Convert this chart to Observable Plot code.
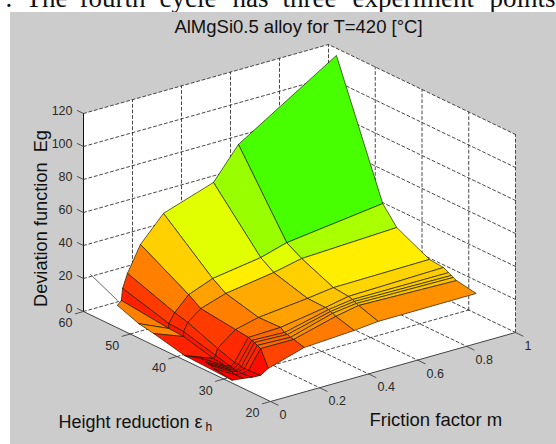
<!DOCTYPE html>
<html><head><meta charset="utf-8">
<script src="https://cdn.jsdelivr.net/npm/d3@7"></script>
<script src="https://cdn.jsdelivr.net/npm/@observablehq/plot@0.6"></script>
<style>html,body{margin:0;padding:0;background:#fff}svg{display:block}</style>
</head><body><div id="chart"></div>
<script>
// Surface rows: height reduction, friction factor and deviation function
const heightReduction = [58.3, 48.4, 45.4, 38.4, 35.4, 34.3, 33.7, 33.3, 32.6, 28.4];
const friction = [
  [.106,.122,.127,.147,.200,.294,.498,.600,1],
  [.004,.127,.127,.151,.208,.306,.502,.608,1],
  [.008,.130,.130,.147,.200,.302,.498,.612,1],
  [0,.118,.127,.135,.208,.302,.502,.608,1],
  [.012,.106,.131,.147,.204,.335,.518,.612,1],
  [.004,.098,.122,.142,.196,.330,.510,.608,1],
  [.004,.094,.122,.143,.196,.331,.506,.604,1],
  [.009,.094,.123,.147,.200,.335,.507,.604,1],
  [.009,.094,.123,.151,.200,.335,.507,.600,1],
  [.004,.049,.086,.119,.151,.298,.502,.600,1]
];
const deviation = [
  [1.6,3.9,11.0,19.3,34.6,49.5,59.7,78.5,115.7],
  [8.3,.2,3.2,8.8,17.3,23.0,27.5,32.1,39.4],
  [6.2,-.7,2.3,7.1,13.3,18.2,22.7,26.4,29.0],
  [2.8,-4.0,-2.5,1.4,9.8,13.2,16.4,18.5,19.2],
  [4.6,-3.6,-5.2,-3.5,9.3,9.9,14.3,17.1,18.4],
  [4.5,-3.0,-4.6,-3.0,9.3,8.5,14.9,16.9,16.8],
  [4.2,-3.2,-5.0,-3.5,8.9,8.1,14.7,16.7,15.9],
  [3.3,-3.9,-5.1,-4.3,7.5,6.7,14.1,16.0,15.2],
  [2.4,-4.8,-5.4,-4.7,6.5,6.4,13.2,15.9,14.3],
  [1.2,.5,-.4,-.6,2.3,8.8,10.6,12.0,12.2]
];
// Colour level of each face (0 red ... 120 green)
const faceLevel = [
  [30,8,14,30,49,67,84,103],
  [32,5,10,16,38,56,67,80],
  [8,5,10,14,30,40,49,56],
  [0,0,5,10,27,38,46,50],
  [0,0,2,8,24,35,44,48],
  [0,0,2,8,24,35,44,48],
  [0,0,2,8,24,34,43,47],
  [0,0,2,8,24,34,42,46],
  [0,0,0,3,16,29,36,34]
];
// Lower fold of the surface, as [row, column] of the grid above
const underside = [[3,0],[9,0],[8,1],[3,1]];
const strayM = [-.004, .106];
const strayEg = [25, 4.6];
const strayE = 58.3;

const egTicks = [0,20,40,60,80,100,120];
const mTicks = [0,.2,.4,.6,.8,1];
const eTicks = [20,30,40,50,60];
const titleText = "AlMgSi0.5 alloy for T=420 [°C]";
const topWords = [".","The","fourth","cycle","has","three","experiment","points."];
const topWordStart = [5,25,79,159,232,282,352,489];

// Orthographic view of the MATLAB axes box
const W = 556, H = 444;
const px = (m,e,z) => 83 + 187*(60-e)/40 + 245*m;
const py = (m,e,z) => 311 + 90*(60-e)/40 - 69*m - 1.65*z;
const pt = (m,e,z,extra={}) => ({x:px(m,e,z), y:py(m,e,z), ...extra});
const gridPt = ([i,j],extra) => pt(friction[i][j],heightReduction[i],deviation[i][j],extra);

// faces, back to front
const faces = [...underside,underside[0]].map(v => gridPt(v,{id:"under",level:0}));
faceLevel.forEach((row,r) => {
  for (let c = row.length-1; c >= 0; c--) {
    const id = `${r}-${c}`, level = row[c];
    [[r,c],[r,c+1],[r+1,c+1],[r+1,c],[r,c]].forEach(v => faces.push(gridPt(v,{id,level})));
  }
});

const walls = [
  [[0,60,0],[1,60,0],[1,60,120],[0,60,120]],
  [[1,60,0],[1,20,0],[1,20,120],[1,60,120]],
  [[0,60,0],[1,60,0],[1,20,0],[0,20,0]]
].flatMap((w,i) => [...w,w[0]].map(p => pt(...p,{id:i})));

const grid = [];
const addLine = (id,...ps) => ps.forEach(p => grid.push(pt(...p,{id})));
egTicks.forEach(z => addLine(`z${z}`,[0,60,z],[1,60,z],[1,20,z]));
mTicks.slice(1).forEach(m => { addLine(`mw${m}`,[m,60,0],[m,60,120]); if (m<1) addLine(`mf${m}`,[m,60,0],[m,20,0]); });
eTicks.forEach(e => { if (e<60) addLine(`ew${e}`,[1,e,0],[1,e,120]); if (e>20 && e<60) addLine(`ef${e}`,[0,e,0],[1,e,0]); });

const axisBase = [pt(0,60,0,{id:0}),pt(0,20,0,{id:0}),pt(1,20,0,{id:0})];
const zAxis = [pt(0,60,0),pt(0,60,120)];
const stray = strayM.map((m,i) => pt(m,strayE,strayEg[i]));

const zTickLinks = egTicks.map(z => ({x1:px(0,60,z),y1:py(0,60,z),x2:px(0,61.4,z),y2:py(0,61.4,z),z}));
const eTickLinks = eTicks.map(e => ({x1:px(0,e,0),y1:py(0,e,0),x2:px(-.035,e,0),y2:py(-.035,e,0),e}));
const mTickLinks = mTicks.map(m => ({x1:px(m,20,0),y1:py(m,20,0),x2:px(m,18.3,0),y2:py(m,18.3,0),m}));

const sans = "Liberation Sans, Arial, sans-serif";
const tickStyle = {fontFamily:sans, fontSize:12.5, fill:"#2a2a2a"};

const chart = Plot.plot({
  width:W, height:H, margin:0,
  x:{domain:[0,W],range:[0,W],axis:null},
  y:{domain:[0,H],range:[0,H],axis:null},
  color:{type:"linear",domain:[0,120],interpolate:t=>`hsl(${t*120},100%,50%)`},
  style:{background:"#fff",overflow:"hidden"},
  marks:[
    Plot.text(topWords,{x:(d,i)=>topWordStart[i],y:()=>6,text:d=>d,textAnchor:"start",lineAnchor:"bottom",fontFamily:"Liberation Serif, Times New Roman, serif",fontSize:27,fill:"#111"}),
    Plot.rect([0],{x1:()=>10,x2:()=>W,y1:()=>12,y2:()=>H,fill:"#cccccc"}),
    Plot.line(walls,{x:"x",y:"y",z:"id",fill:"#fff",stroke:"none"}),
    Plot.line(grid,{x:"x",y:"y",z:"id",stroke:"#333",strokeWidth:.9,strokeDasharray:"3,2.6"}),
    Plot.line(stray,{x:"x",y:"y",stroke:"#555",strokeWidth:.9}),
    Plot.line(faces,{x:"x",y:"y",z:"id",fill:"level",stroke:"#1c1c00",strokeWidth:.85,strokeOpacity:.8}),
    Plot.line(axisBase,{x:"x",y:"y",stroke:"#444",strokeWidth:1}),
    Plot.line(zAxis,{x:"x",y:"y",stroke:"#111",strokeWidth:1}),
    Plot.link(zTickLinks,{x1:"x1",y1:"y1",x2:"x2",y2:"y2",stroke:"#444",strokeWidth:.9}),
    Plot.link(eTickLinks,{x1:"x1",y1:"y1",x2:"x2",y2:"y2",stroke:"#444",strokeWidth:.9}),
    Plot.link(mTickLinks,{x1:"x1",y1:"y1",x2:"x2",y2:"y2",stroke:"#444",strokeWidth:.9}),
    Plot.text(zTickLinks,{x:"x1",y:"y1",text:"z",dx:-11,dy:-3,textAnchor:"end",...tickStyle}),
    Plot.text(eTickLinks,{x:"x1",y:"y1",text:"e",dx:-18,dy:11.5,...tickStyle}),
    Plot.text(mTickLinks,{x:"x1",y:"y1",text:d=>String(d.m),dx:9,dy:13.5,textAnchor:"start",...tickStyle}),
    Plot.text([titleText],{x:()=>298,y:()=>27,text:d=>d,fontFamily:sans,fontSize:18.5,fill:"#111"}),
    Plot.text(["Deviation function  Eg"],{x:()=>41,y:()=>218,text:d=>d,rotate:-90,fontFamily:sans,fontSize:18.2,fill:"#111"}),
    Plot.text(["Height reduction ε"],{x:()=>58,y:()=>422,text:d=>d,textAnchor:"start",fontFamily:sans,fontSize:18,fill:"#111"}),
    Plot.text(["h"],{x:()=>205,y:()=>427,text:d=>d,textAnchor:"start",fontFamily:sans,fontSize:12,fill:"#111"}),
    Plot.text(["Friction factor m"],{x:()=>369,y:()=>420,text:d=>d,textAnchor:"start",fontFamily:sans,fontSize:18.5,fill:"#111"})
  ]
});
document.getElementById("chart").append(chart);
</script></body></html>
